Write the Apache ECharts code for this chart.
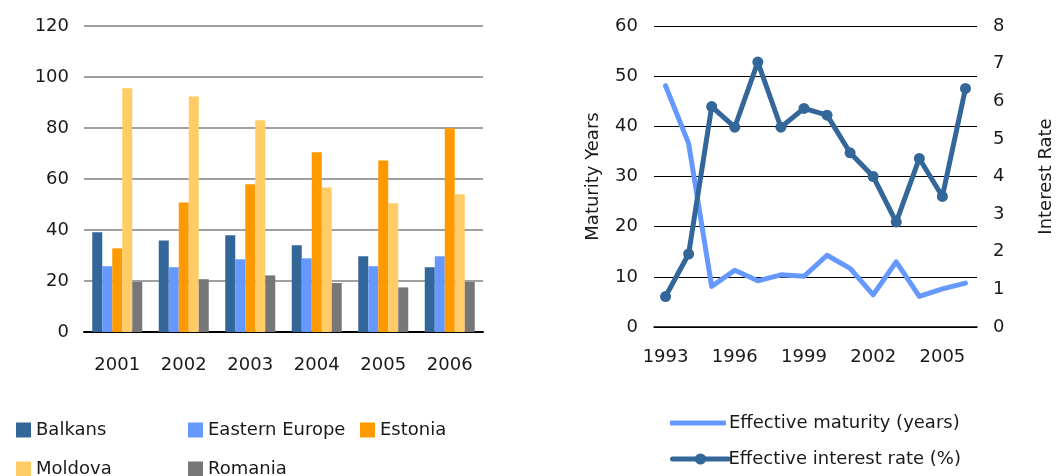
<!DOCTYPE html>
<html><head><meta charset="utf-8">
<script src="https://cdn.jsdelivr.net/npm/echarts@6/dist/echarts.min.js"></script>
<style>html,body{margin:0;padding:0;background:#fff}#c{width:1058px;height:476px}</style>
</head><body><div id="c"></div>
<script>
const years = ['2001','2002','2003','2004','2005','2006'];
const balkans = [39.1, 35.9, 37.9, 34.0, 29.7, 25.4];
const easternEurope = [25.8, 25.4, 28.5, 28.9, 25.8, 29.7];
const estonia = [32.8, 50.8, 57.9, 70.5, 67.3, 79.9];
const moldova = [95.6, 92.4, 83.0, 56.7, 50.5, 54.0];
const romania = [19.6, 20.7, 22.2, 19.2, 17.5, 19.6];

const lineYears = ['1993','1994','1995','1996','1997','1998','1999','2000','2001','2002','2003','2004','2005','2006'];
const maturity = [48.1, 36.6, 8.1, 11.3, 9.2, 10.4, 10.1, 14.3, 11.7, 6.4, 13.0, 6.1, 7.6, 8.75];
const interest = [0.81, 1.94, 5.86, 5.31, 7.04, 5.31, 5.81, 5.63, 4.63, 4.0, 2.79, 4.48, 3.47, 6.34];

const FONT = 'DejaVu Sans';
const FS = 18;
const TXT = '#1a1a1a';
const barNames = ['Balkans','Eastern Europe','Estonia','Moldova','Romania'];
const barData = [balkans, easternEurope, estonia, moldova, romania];
const barColors = ['#336699','#6699FF','#FF9900','#FFCC66','#777777'];
const legendPos = [[16,421],[188,421],[360,421],[16,460],[188,460]];

const chart = echarts.init(document.getElementById('c'), null, {renderer:'canvas'});
const legends = barNames.map((n,i)=>({
  data:[n], left:legendPos[i][0], top:legendPos[i][1], padding:0,
  icon:'rect', itemWidth:15, itemHeight:15,
  textStyle:{fontFamily:FONT, fontSize:FS, color:TXT}
}));
legends.push({data:['Effective maturity (years)'], left:670, top:414, padding:0, icon:'roundRect', itemWidth:56, itemHeight:5,
  itemStyle:{color:'#6699FF', borderRadius:3},
  textStyle:{fontFamily:FONT, fontSize:FS, color:TXT, padding:[11,0,0,-2]}});
legends.push({data:['Effective interest rate (%)'], left:670, top:450, padding:0, itemWidth:56, itemHeight:14,
  lineStyle:{width:5, cap:'round'},
  textStyle:{fontFamily:FONT, fontSize:FS, color:TXT, padding:[8,0,0,-5]}});

const option = {
  animation:false,
  textStyle:{fontFamily:FONT},
  legend: legends,
  grid:[
    {left:84, right:575, top:26, bottom:144},
    {left:654, right:81, top:26, bottom:149}
  ],
  xAxis:[
    {type:'category', gridIndex:0, data:years,
     axisLine:{lineStyle:{color:'#000', width:2}}, axisTick:{show:false},
     axisLabel:{fontFamily:FONT, fontSize:FS, color:TXT, margin:24}},
    {type:'category', gridIndex:1, data:lineYears,
     axisLine:{lineStyle:{color:'#000', width:1.5}}, axisTick:{show:false},
     axisLabel:{fontFamily:FONT, fontSize:FS, color:TXT, margin:21, interval:2}}
  ],
  yAxis:[
    {type:'value', gridIndex:0, min:0, max:120, interval:20,
     axisLine:{show:false}, axisTick:{show:false},
     splitLine:{lineStyle:{color:'#808080', width:1.5}},
     axisLabel:{fontFamily:FONT, fontSize:FS, color:TXT, margin:15}},
    {type:'value', gridIndex:1, min:0, max:60, interval:10,
     name:'Maturity Years', nameLocation:'middle', nameGap:52, nameRotate:90,
     nameTextStyle:{fontFamily:FONT, fontSize:FS, color:TXT},
     axisLine:{show:false}, axisTick:{show:false},
     splitLine:{lineStyle:{color:'#000', width:1}},
     axisLabel:{fontFamily:FONT, fontSize:FS, color:TXT, margin:16}},
    {type:'value', gridIndex:1, position:'right', min:0, max:8, interval:1,
     name:'Interest Rate', nameLocation:'middle', nameGap:60, nameRotate:90,
     nameTextStyle:{fontFamily:FONT, fontSize:FS, color:TXT},
     axisLine:{show:false}, axisTick:{show:false}, splitLine:{show:false},
     axisLabel:{fontFamily:FONT, fontSize:FS, color:TXT, margin:16}}
  ],
  series: [
    ...barNames.map((n,i)=>({
      name:n, type:'bar', xAxisIndex:0, yAxisIndex:0, data:barData[i],
      barWidth:10, barGap:'0%', itemStyle:{color:barColors[i]}
    })),
    {name:'Effective maturity (years)', type:'line', xAxisIndex:1, yAxisIndex:1, data:maturity,
     showSymbol:false, symbol:'none', lineStyle:{color:'#6699FF', width:5, cap:'round', join:'round'},
     itemStyle:{color:'#6699FF'}},
    {name:'Effective interest rate (%)', type:'line', xAxisIndex:1, yAxisIndex:2, data:interest,
     symbol:'circle', symbolSize:11, lineStyle:{color:'#336699', width:5, cap:'round', join:'round'},
     itemStyle:{color:'#336699'}}
  ]
};
chart.setOption(option);
</script></body></html>
